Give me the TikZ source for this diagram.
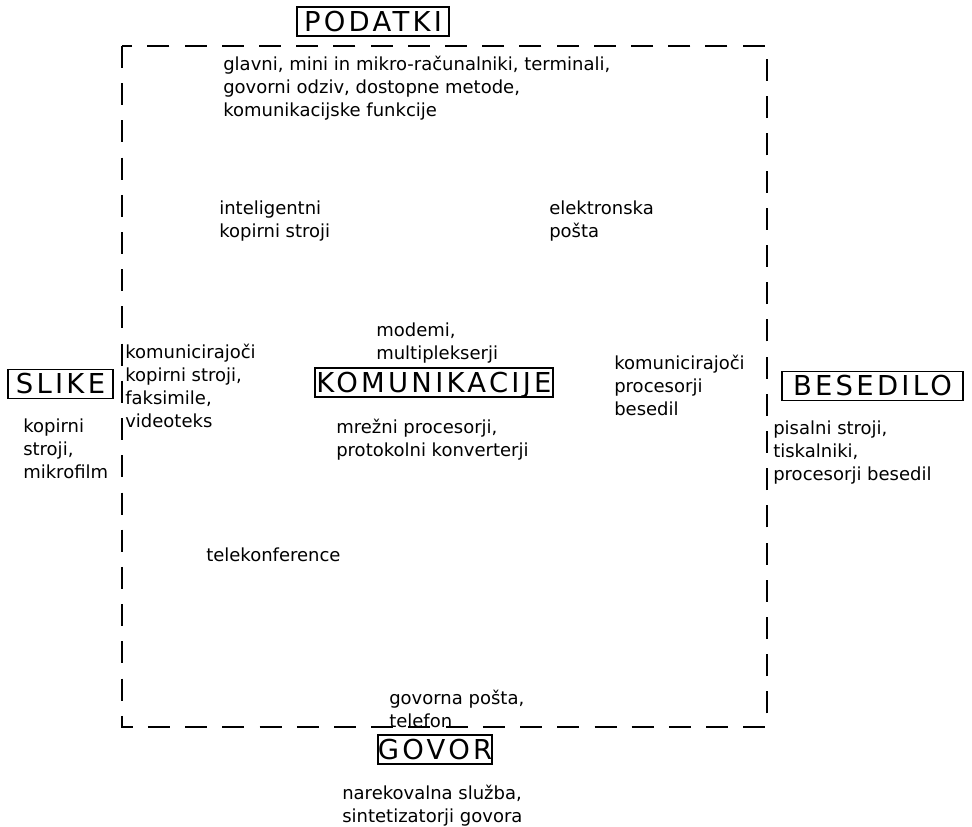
\documentclass[tikz,border=0pt]{standalone}
\usepackage{fontspec}
\setmainfont{DejaVu Sans}
\newfontfamily\capsfont[LetterSpace=12]{DejaVu Sans}
\begin{document}
\begin{tikzpicture}[x=0.025cm,y=-0.025cm,
	every node/.style={font=\fontsize{12.8}{16.3}\selectfont},
	lbl/.style={draw,line width=1.1pt,font=\capsfont\fontsize{19.5}{19.5}\selectfont,
		inner sep=0pt,minimum height=0.725cm,text height=14.2pt,text depth=0pt},
	txt/.style={anchor=north west,align=left,inner sep=0pt},
	frame/.style={dash pattern=on 0.55cm off 0.38cm,line width=1.4pt}]
	\useasboundingbox (0,0) rectangle (972,827);
	\coordinate (TL) at (122,46);
	\coordinate (BR) at (767,727);
	\draw[frame] (TL) rectangle (BR);
	\node[lbl,minimum width=3.8cm] (PODATKI) at (373,21.5) {PODATKI};
	\node[lbl,minimum width=2.625cm] (SLIKE) at (60.5,384) {SLIKE};
	\node[lbl,minimum width=5.95cm] (KOM) at (434,382.5) {KOMUNIKACIJE};
	\node[lbl,minimum width=4.525cm] (BESEDILO) at (872.5,386) {BESEDILO};
	\node[lbl,minimum width=2.7cm] (GOVOR) at (435,749.5) {GOVOR};
	\node[txt] (T1) at (223,56) {glavni, mini in mikro-računalniki, terminali,\\govorni odziv, dostopne metode,\\komunikacijske funkcije};
	\node[txt] (T2) at (219,201) {inteligentni\\kopirni stroji};
	\node[txt] (T3) at (549,201) {elektronska\\pošta};
	\node[txt] (T4) at (376,323) {modemi,\\multiplekserji};
	\node[txt] (T5) at (125,344) {komunicirajoči\\kopirni stroji,\\faksimile,\\videoteks};
	\node[txt] (T6) at (614,355) {komunicirajoči\\procesorji\\besedil};
	\node[txt] (T7) at (336,419) {mrežni procesorji,\\protokolni konverterji};
	\node[txt] (T8) at (23,419) {kopirni\\stroji,\\mikrofilm};
	\node[txt] (T9) at (773,421) {pisalni stroji,\\tiskalniki,\\procesorji besedil};
	\node[txt] (T10) at (206,548) {telekonference};
	\node[txt] (T11) at (389,690) {govorna pošta,\\telefon};
	\node[txt] (T12) at (342,785) {narekovalna služba,\\sintetizatorji govora};
\end{tikzpicture}
\end{document}
